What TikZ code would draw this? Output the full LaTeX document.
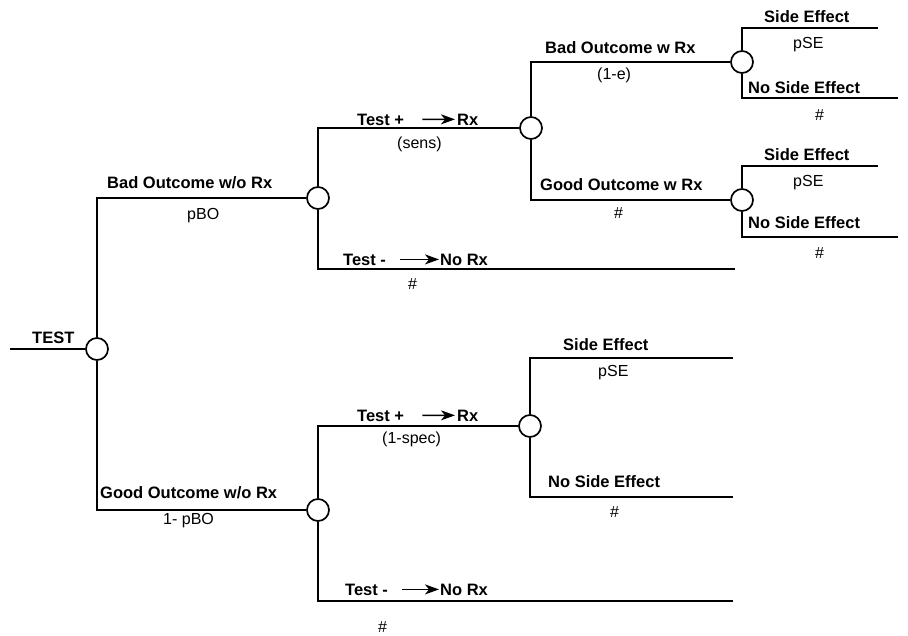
\documentclass[tikz,border=0pt]{standalone}
\usepackage{fontspec}
\setmainfont{Liberation Sans}
\usetikzlibrary{arrows.meta}
\begin{document}
\begin{tikzpicture}[x=1pt,y=-1pt,
 branch/.style={line width=1.9pt},
 chance/.style={circle,draw,line width=1.7pt,fill=white,minimum size=22pt,inner sep=0pt},
 lbl/.style={font=\fontsize{16.5}{19}\selectfont\bfseries,inner sep=0pt,anchor=base west},
 prob/.style={font=\fontsize{16}{19}\selectfont,inner sep=0pt,anchor=west},
 txtarrow/.style={line width=1.3pt,-{Stealth[length=14pt,width=10pt,inset=4pt]}}]
\useasboundingbox (0,0) rectangle (908,635);
% free ends
\coordinate (s0) at (10,349);
\coordinate (e5a) at (878,28);
\coordinate (e5b) at (898,98);
\coordinate (e6a) at (878,166);
\coordinate (e6b) at (898,237);
\coordinate (e1b) at (735,269);
\coordinate (e4a) at (733,358);
\coordinate (e4b) at (733,497);
\coordinate (e2b) at (733,601);
% chance nodes
\node[chance] (c0) at (97,349) {};
\node[chance] (c1) at (318,198) {};
\node[chance] (c2) at (318,510) {};
\node[chance] (c3) at (531,128) {};
\node[chance] (c4) at (530,426) {};
\node[chance] (c5) at (742,62) {};
\node[chance] (c6) at (742,200) {};
% branches
\draw[branch] (s0) -- (c0);
\draw[branch] (c0) |- (c1);
\draw[branch] (c0) |- (c2);
\draw[branch] (c1) |- (c3);
\draw[branch] (c1) |- (e1b);
\draw[branch] (c3) |- (c5);
\draw[branch] (c3) |- (c6);
\draw[branch] (c5) |- (e5a);
\draw[branch] (c5) |- (e5b);
\draw[branch] (c6) |- (e6a);
\draw[branch] (c6) |- (e6b);
\draw[branch] (c2) |- (c4);
\draw[branch] (c2) |- (e2b);
\draw[branch] (c4) |- (e4a);
\draw[branch] (c4) |- (e4b);
% labels
\node[lbl] (lTEST) at (32,343) {TEST};
\node[lbl] (lBO) at (107,188) {Bad Outcome w/o Rx};
\node[prob] (pBO) at (187,216) {pBO};
\node[lbl] (tp1) at (357,125) {Test +};
\node[lbl] (rx1) at (457,125) {Rx};
\draw[txtarrow,shorten <=18pt,shorten >=2pt] (tp1) -- (rx1);
\node[prob] (sens) at (397,144) {(sens)};
\node[lbl] (tm1) at (343,265) {Test -};
\node[lbl] (nrx1) at (440,265) {No Rx};
\draw[txtarrow,shorten <=14pt,shorten >=1pt] (tm1) -- (nrx1);
\node[prob] (h1) at (408,284) {\#};
\node[lbl] (lBOR) at (545,53) {Bad Outcome w Rx};
\node[prob] (pe) at (597,75) {(1-e)};
\node[lbl] (se1) at (764,22) {Side Effect};
\node[prob] (pse1) at (793,45) {pSE};
\node[lbl] (nse1) at (748,93) {No Side Effect};
\node[prob] (h2) at (815,115) {\#};
\node[lbl] (lGOR) at (540,190) {Good Outcome w Rx};
\node[prob] (h3) at (614,213) {\#};
\node[lbl] (se2) at (764,160) {Side Effect};
\node[prob] (pse2) at (793,183) {pSE};
\node[lbl] (nse2) at (748,228) {No Side Effect};
\node[prob] (h4) at (815,253) {\#};
\node[lbl] (lGO) at (100,498) {Good Outcome w/o Rx};
\node[prob] (pGO) at (163,521) {1- pBO};
\node[lbl] (tp2) at (357,421) {Test +};
\node[lbl] (rx2) at (457,421) {Rx};
\draw[txtarrow,shorten <=18pt,shorten >=2pt] (tp2) -- (rx2);
\node[prob] (spec) at (382,439) {(1-spec)};
\node[lbl] (se3) at (563,350) {Side Effect};
\node[prob] (pse3) at (598,373) {pSE};
\node[lbl] (nse3) at (548,487) {No Side Effect};
\node[prob] (h5) at (610,512) {\#};
\node[lbl] (tm2) at (345,595) {Test -};
\node[lbl] (nrx2) at (440,595) {No Rx};
\draw[txtarrow,shorten <=14pt,shorten >=1pt] (tm2) -- (nrx2);
\node[prob] (h6) at (378,627) {\#};
\end{tikzpicture}
\end{document}
